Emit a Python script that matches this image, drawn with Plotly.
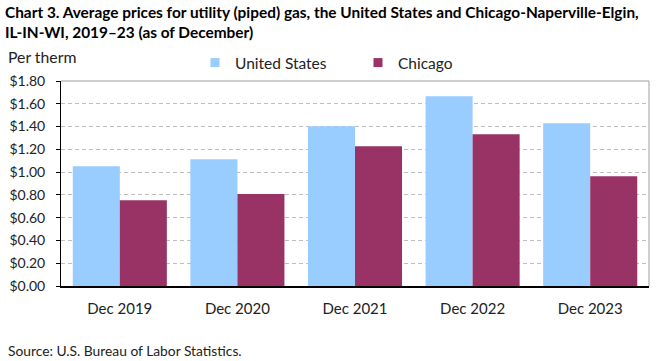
import plotly.graph_objects as go

categories = ["Dec 2019", "Dec 2020", "Dec 2021", "Dec 2022", "Dec 2023"]
us_values = [1.052, 1.113, 1.403, 1.666, 1.429]
chicago_values = [0.754, 0.807, 1.227, 1.333, 0.964]
tick_vals = [0, 0.2, 0.4, 0.6, 0.8, 1.0, 1.2, 1.4, 1.6, 1.8]
tick_text = ["$%.2f" % v for v in tick_vals]
series_names = ["United States", "Chicago"]
series_colors = ["#99CCFF", "#993366"]

FONT = "Lato, Carlito, Calibri, sans-serif"
W, H = 661, 361
L, R, T, B = 61, 12, 81, 75
PW, PH = W - L - R, H - T - B


def px(x):
    return (x - L) / PW


def py(y):
    return (H - B - y) / PH


fig = go.Figure()
for name, vals, col in zip(series_names, [us_values, chicago_values], series_colors):
    fig.add_trace(go.Bar(name=name, x=categories, y=vals, showlegend=False,
                         legendgroup=name, marker=dict(color=col, line=dict(width=0))))
# legend entries with small square symbols
for name, col in zip(series_names, series_colors):
    fig.add_trace(go.Scatter(name=name, x=[None], y=[None], mode="markers",
                             legendgroup=name,
                             marker=dict(symbol="square", size=9, color=col)))

fig.update_layout(
    width=W, height=H,
    margin=dict(l=L, r=R, t=T, b=B, autoexpand=False),
    paper_bgcolor="white", plot_bgcolor="white",
    barmode="group", bargap=0.2, bargroupgap=0,
    font=dict(family=FONT, size=14, color="#222222"),
    showlegend=True,
    legend=dict(orientation="h", x=px(195), xanchor="left", y=py(63), yanchor="middle",
                font=dict(size=15.5, color="#222222"),
                entrywidth=118, entrywidthmode="pixels",
                traceorder="normal", bgcolor="rgba(0,0,0,0)"),
    xaxis=dict(showline=True, linecolor="black", linewidth=1.5, ticks="",
               tickfont=dict(size=15), mirror=False, showgrid=False, ticklabelstandoff=8),
    yaxis=dict(range=[0, 1.8], tickvals=tick_vals, ticktext=tick_text,
               showline=True, linecolor="black", linewidth=1, ticks="outside",
               ticklen=4, tickcolor="black", ticklabelstandoff=8,
               showgrid=True, gridcolor="#BFBFBF", griddash="4px,3px", gridwidth=1,
               zeroline=False, tickfont=dict(size=14)),
    annotations=[
        dict(text="<b>Chart 3. Average prices for utility (piped) gas, the United States and Chicago-Naperville-Elgin,<br>IL-IN-WI, 2019\u201323 (as of December)</b>",
             xref="paper", yref="paper", x=px(3), y=py(1), xanchor="left", yanchor="top",
             showarrow=False, align="left", font=dict(size=15.4, color="#000000", family=FONT)),
        dict(text="Per therm", xref="paper", yref="paper", x=px(6), y=py(57),
             xanchor="left", yanchor="middle", showarrow=False,
             font=dict(size=15.8, color="#222222")),
        dict(text="Source: U.S. Bureau of Labor Statistics.", xref="paper", yref="paper",
             x=px(6), y=py(350), xanchor="left", yanchor="middle", showarrow=False,
             font=dict(size=13.8, color="#222222")),
    ],
)

# top and right border in gray
fig.add_shape(type="line", xref="paper", yref="paper", x0=0, x1=1, y0=1, y1=1,
              line=dict(color="#BFBFBF", width=1.5))
fig.add_shape(type="line", xref="paper", yref="paper", x0=1, x1=1, y0=0, y1=1,
              line=dict(color="#BFBFBF", width=1.5))

fig.write_html("out.html", config={"displayModeBar": False},
               post_script="document.body.style.margin='0';")
